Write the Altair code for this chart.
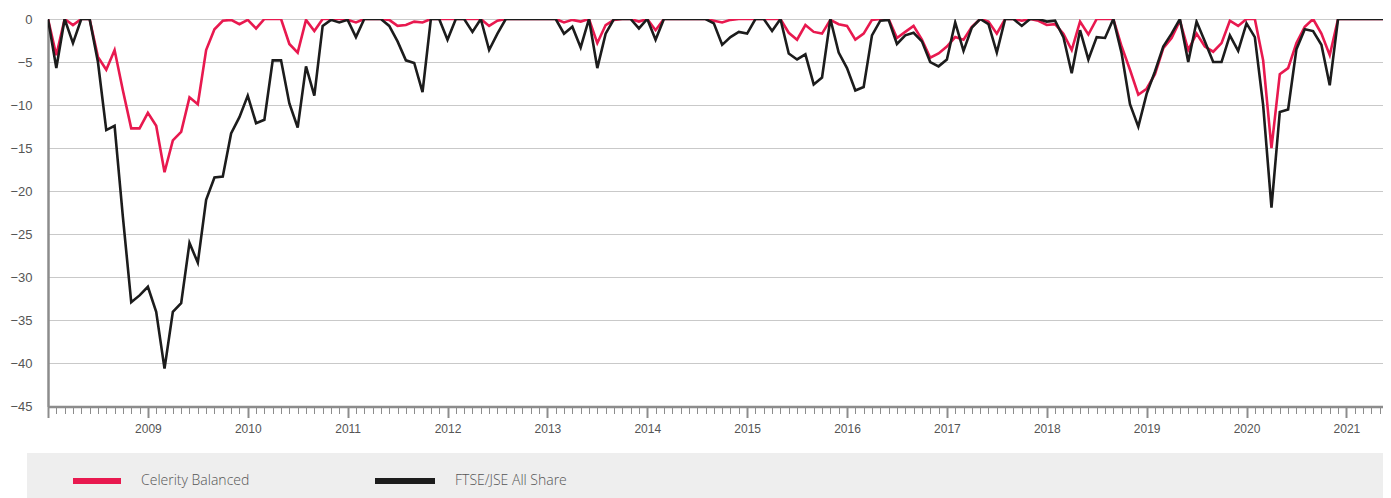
import json
import altair as alt
import pandas as pd

SERIES = ["Celerity Balanced", "FTSE/JSE All Share"]
COLORS = ["#E8194F", "#1C1C1C"]
YEARS = [str(y) for y in range(2009, 2022)]
Y_TICKS = [0, -5, -10, -15, -20, -25, -30, -35, -40, -45]

# monthly drawdown (%), first point = start of 2008
celerity = [
    0, -4.2, 0, -0.7, 0, 0, -4.4, -5.9, -3.6, -8.3,
    -12.7, -12.7, -10.9, -12.4, -17.8, -14.1, -13.1, -9.1, -9.9, -3.6,
    -1.2, -0.2, -0.1, -0.6, -0.1, -1.1, 0, 0, 0, -2.9,
    -3.9, -0.1, -1.4, 0, 0, 0, -0.1, -0.4, 0, 0,
    0, -0.1, -0.8, -0.7, -0.3, -0.4, 0, 0, 0, 0,
    0, 0, 0, -0.8, -0.2, 0, 0, 0, 0, 0,
    0, 0, -0.4, -0.1, -0.3, 0, -2.8, -0.7, -0.1, 0,
    0, -0.3, 0, -1.3, 0, 0, 0, 0, 0, 0,
    -0.2, -0.4, -0.1, 0, 0, 0, 0, 0, 0, -1.6,
    -2.4, -0.7, -1.5, -1.7, -0.1, -0.6, -0.8, -2.4, -1.7, -0.1,
    0, 0, -2.2, -1.5, -0.8, -2.4, -4.5, -4.0, -3.2, -2.1,
    -2.4, -0.9, 0, -0.3, -1.7, 0, 0, -0.2, 0, -0.2,
    -0.7, -0.6, -1.7, -3.6, -0.3, -1.8, 0, 0, 0, -3.2,
    -5.9, -8.8, -8.1, -6.4, -3.4, -2.2, -0.2, -3.6, -1.7, -3.2,
    -3.8, -2.8, -0.2, -0.8, 0, 0, -4.8, -15.0, -6.4, -5.7,
    -2.8, -0.9, 0, -1.7, -4.2, 0, 0, 0, 0, 0,
    0, 0, 0,
]

ftse = [
    0, -5.7, 0, -2.8, 0, 0, -5.0, -12.9, -12.4, -23.0,
    -32.9, -32.1, -31.1, -34.0, -40.6, -34.0, -33.0, -26.0, -28.3, -21.0,
    -18.4, -18.3, -13.3, -11.4, -8.9, -12.1, -11.7, -4.8, -4.8, -9.8,
    -12.6, -5.5, -8.9, -0.8, -0.1, -0.4, -0.1, -2.1, 0, 0,
    0, -0.8, -2.6, -4.8, -5.1, -8.5, 0, 0, -2.4, 0,
    0, -1.5, 0, -3.6, -1.7, 0, 0, 0, 0, 0,
    0, 0, -1.7, -0.9, -3.3, 0, -5.7, -1.7, 0, 0,
    0, -1.1, 0, -2.4, 0, 0, 0, 0, 0, 0,
    -0.5, -3.0, -2.1, -1.5, -1.7, 0, 0, -1.4, 0, -4.0,
    -4.7, -4.1, -7.6, -6.8, 0, -3.9, -5.7, -8.3, -7.9, -1.9,
    -0.2, -0.1, -2.9, -1.9, -1.6, -2.6, -5.0, -5.5, -4.7, -0.4,
    -3.7, -1.0, 0, -0.6, -3.9, 0, 0, -0.8, 0, 0,
    -0.3, -0.2, -2.1, -6.3, -1.3, -4.7, -2.1, -2.2, 0, -4.0,
    -9.9, -12.5, -8.7, -6.1, -3.2, -1.7, 0, -5.0, -0.3, -2.6,
    -5.0, -5.0, -1.9, -3.7, -0.5, -2.1, -10.0, -21.9, -10.8, -10.5,
    -3.5, -1.2, -1.4, -3.0, -7.7, 0, 0, 0, 0, 0,
    0, 0, -3.4,
]

n = len(ftse)
months = list(range(n))
df_c = pd.DataFrame({"m": months, "v": celerity, "s": SERIES[0]})
df_f = pd.DataFrame({"m": months, "v": ftse, "s": SERIES[1]})

W, H = 1335, 387.5
X_END = 160.4
month_ticks = list(range(0, 161))
year_expr = (
    "datum.value % 12 == 0 && datum.value > 0 ? "
    + json.dumps(YEARS)
    + "[datum.value / 12 - 1] : ''"
)

x_enc = alt.X(
    "m:Q",
    scale=alt.Scale(domain=[0, X_END], nice=False, zero=False),
    axis=alt.Axis(
        values=month_ticks,
        tickCount=len(month_ticks) + 10,
        labelExpr=year_expr,
        labelOverlap=False,
        labelFlush=False,
        grid=False,
        title=None,
        domainColor="#8c8c8c",
        domainWidth=2.5,
        tickColor="#8c8c8c",
        tickSize={"condition": {"test": "datum.value % 12 == 0", "value": 11}, "value": 7},
        tickWidth={"condition": {"test": "datum.value % 12 == 0", "value": 2}, "value": 1},
        labelPadding=6,
        labelFontSize=12,
    ),
)
y_enc = alt.Y(
    "v:Q",
    scale=alt.Scale(domain=[-45, 0], nice=False, zero=False),
    axis=alt.Axis(
        values=Y_TICKS,
        grid=True,
        gridColor="#c9c9c9",
        gridWidth=1,
        ticks=False,
        title=None,
        domainColor="#8c8c8c",
        domainWidth=2.5,
        labelPadding=16,
        labelFontSize=13,
    ),
)

one = alt.Data(values=[{}])

band = alt.Chart(one).mark_rect(color="#EEEEEE").encode(
    x=alt.value(-21), x2=alt.value(W), y=alt.value(434), y2=alt.value(479)
)

line_c = alt.Chart(df_c).mark_line(color=COLORS[0], strokeWidth=2.6, clip=True).encode(x=x_enc, y=y_enc)
line_f = alt.Chart(df_f).mark_line(color=COLORS[1], strokeWidth=2.6, clip=True).encode(x="m:Q", y="v:Q")

leg_font = dict(font="Open Sans", fontSize=14, fontWeight=300, color="#555555", align="left", baseline="middle")
sym_c = alt.Chart(one).mark_rule(color=COLORS[0], strokeWidth=6).encode(
    x=alt.value(25), x2=alt.value(73), y=alt.value(462)
)
txt_c = alt.Chart(one).mark_text(**leg_font).encode(
    x=alt.value(93), y=alt.value(462), text=alt.value(SERIES[0])
)
sym_f = alt.Chart(one).mark_rule(color=COLORS[1], strokeWidth=6).encode(
    x=alt.value(327), x2=alt.value(387), y=alt.value(462)
)
txt_f = alt.Chart(one).mark_text(**leg_font).encode(
    x=alt.value(407), y=alt.value(462), text=alt.value(SERIES[1])
)

chart = (
    alt.layer(band, line_c, line_f, sym_c, txt_c, sym_f, txt_f)
    .properties(width=W, height=H, padding={"left": 1, "top": 5, "right": 0, "bottom": 0})
    .configure_view(stroke=None)
    .configure_axis(labelFont="Liberation Sans", labelColor="#555555")
)

chart.save("out.html", embed_options={"renderer": "svg", "actions": False})
